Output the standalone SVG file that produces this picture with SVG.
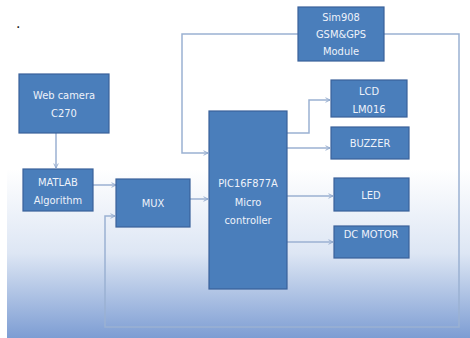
<svg xmlns="http://www.w3.org/2000/svg" width="470" height="338" viewBox="0 0 470 338">
<defs>
<linearGradient id="bg" x1="0" y1="0" x2="0" y2="1">
<stop offset="0" stop-color="#ffffff"/>
<stop offset="0.5" stop-color="#ffffff"/>
<stop offset="0.75" stop-color="#dde6f4"/>
<stop offset="1" stop-color="#7d9dd3"/>
</linearGradient>
<marker id="arr" viewBox="0 0 8 8" refX="7" refY="4" markerWidth="6" markerHeight="6" orient="auto" markerUnits="userSpaceOnUse">
<path d="M1,1 L7,4 L1,7" fill="none" stroke="#8ea7cc" stroke-width="1.2"/>
</marker>
</defs>
<style>
.box{fill:#4a7ebb;stroke:#3a619a;stroke-width:1.2}
.t{font-family:"DejaVu Sans Condensed","Liberation Sans",sans-serif;font-size:11px;fill:#eef2fa;text-anchor:middle}
.c{fill:none;stroke:#9bb1d2;stroke-width:1.5}
</style>
<rect x="0" y="0" width="470" height="338" fill="#ffffff"/>
<rect x="7" y="0" width="463" height="338" fill="url(#bg)"/>
<text x="16" y="28" font-family="Liberation Sans,sans-serif" font-size="16" fill="#222222">.</text>
<g id="connectors">
<path class="c" d="M298,34 H182 V153 H208" marker-end="url(#arr)"/>
<path class="c" d="M384,34 H459 V327 H105 V216 H115" marker-end="url(#arr)"/>
<path class="c" d="M56,133 V168" marker-end="url(#arr)"/>
<path class="c" d="M93,185 H116" marker-end="url(#arr)"/>
<path class="c" d="M190,199 H208" marker-end="url(#arr)"/>
<path class="c" d="M287,133 H309 V100 H330" marker-end="url(#arr)"/>
<path class="c" d="M287,148 H330" marker-end="url(#arr)"/>
<path class="c" d="M287,196 H333" marker-end="url(#arr)"/>
<path class="c" d="M287,242 H333" marker-end="url(#arr)"/>
</g>
<g id="sim908"><rect class="box" x="298" y="7" width="86" height="54"/>
<text class="t" x="341" y="21">Sim908</text><text class="t" x="341" y="38">GSM&amp;GPS</text><text class="t" x="341" y="55">Module</text></g>
<g id="webcam"><rect class="box" x="19" y="74" width="90" height="59"/>
<text class="t" x="64" y="99">Web camera</text><text class="t" x="64" y="117">C270</text></g>
<g id="matlab"><rect class="box" x="23" y="169" width="70" height="42"/>
<text class="t" x="58" y="186">MATLAB</text><text class="t" x="58" y="204">Algorithm</text></g>
<g id="mux"><rect class="box" x="116" y="179" width="74" height="48"/>
<text class="t" x="153" y="207">MUX</text></g>
<g id="pic"><rect class="box" x="209" y="111" width="78" height="178"/>
<text class="t" x="248" y="187">PIC16F877A</text><text class="t" x="248" y="206">Micro</text><text class="t" x="248" y="224">controller</text></g>
<g id="lcd"><rect class="box" x="331" y="80" width="76" height="37"/>
<text class="t" x="369" y="95">LCD</text><text class="t" x="369" y="113">LM016</text></g>
<g id="buzzer"><rect class="box" x="331" y="127" width="78" height="32"/>
<text class="t" x="370" y="147">BUZZER</text></g>
<g id="led"><rect class="box" x="334" y="178" width="75" height="33"/>
<text class="t" x="371" y="199">LED</text></g>
<g id="dcmotor"><rect class="box" x="334" y="226" width="75" height="32"/>
<text class="t" x="371" y="238">DC MOTOR</text></g>
</svg>
